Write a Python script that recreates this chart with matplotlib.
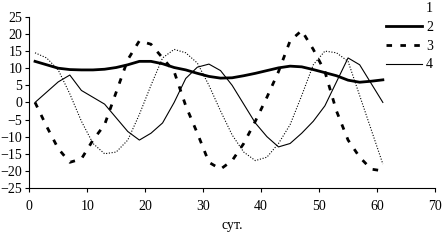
import matplotlib
matplotlib.use("Agg")
import matplotlib.pyplot as plt
from matplotlib.lines import Line2D

days = list(range(1, 62, 2))
s1 = [14.5, 13, 9.5, 2.5, -5.5, -12, -15, -14.5, -11, -3.5, 5, 13, 15.5, 14.5, 11.5, 5,
      -2.5, -9.5, -14.5, -17, -16, -12, -6.5, 2, 11, 15, 14.5, 12, 2, -8, -18]
s2 = [12, 11, 10, 9.6, 9.5, 9.5, 9.7, 10.2, 11, 12, 12, 11.3, 10.2, 9.5, 8.5, 7.6,
      7.1, 7.2, 7.8, 8.5, 9.3, 10.1, 10.6, 10.4, 9.6, 8.7, 7.8, 6.5, 5.9, 6.2, 6.6]
s3 = [0, -7, -13.5, -17.5, -16.5, -11, -6.5, 3, 12.5, 18, 17, 13, 9, -1, -9, -17.5,
      -19.5, -17, -12, -5.5, 1.5, 9, 18, 21, 15.5, 9, -2.5, -11, -16, -19.5, -20]
s4 = [0, 3, 6, 8, 3.5, 1.5, -0.5, -4.5, -8.5, -11, -9, -6, 0, 7, 10.3, 11.2,
      9.3, 5, -0.5, -6, -10, -13, -12, -9, -5.5, -1, 6, 13, 11, 5.5, 0]
labels = ['1', '2', '3', '4']

plt.rcParams['font.family'] = 'Liberation Serif'
plt.rcParams['font.size'] = 10

fig = plt.figure(figsize=(4.43, 2.41), dpi=100)
ax = fig.add_axes([0.066, 0.22, 0.916, 0.71])

ax.plot(days, s1, color='black', lw=0.8, ls=(0, (1, 1.5)))
ax.plot(days, s2, color='black', lw=2)
ax.plot(days, s3, color='black', lw=2, ls=(0, (2, 3)))
ax.plot(days, s4, color='black', lw=0.8)

ax.set_xlim(0, 70)
ax.set_ylim(-25, 25)
ax.set_xticks(range(0, 71, 10))
ax.set_yticks(range(-25, 26, 5))
ax.spines['top'].set_visible(False)
ax.spines['right'].set_visible(False)
ax.tick_params(length=3, width=0.8, pad=2)
ax.tick_params(axis='x', pad=6)
ax.set_xlabel('сут.', labelpad=4)

handles = [Line2D([], [], color='none'),
           Line2D([], [], color='black', lw=2),
           Line2D([], [], color='black', lw=2, ls=(0, (2, 3))),
           Line2D([], [], color='black', lw=0.8)]
fig.legend(handles, labels, loc='upper right', bbox_to_anchor=(0.99, 1.015),
           frameon=False, handlelength=2.6, handletextpad=0.3, labelspacing=0.42,
           borderaxespad=0)

fig.savefig('out.png', dpi=100)
